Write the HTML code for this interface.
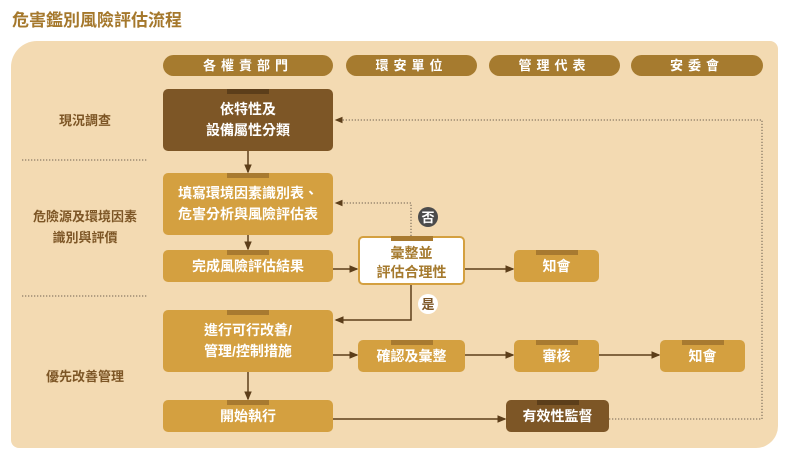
<!DOCTYPE html>
<html><head><meta charset="utf-8"><style>
body{margin:0;width:789px;height:462px;background:#fff;position:relative;overflow:hidden;font-family:"Liberation Sans","Noto Sans CJK TC",sans-serif;}
.t{position:absolute;left:12px;top:6px;font-size:17px;color:#a5782c;font-weight:bold;}
.panel{position:absolute;left:11px;top:41px;width:767px;height:407px;background:#f3dab2;border-radius:26px 8px 22px 8px;}
.pill{position:absolute;top:55px;height:21px;background:#a67b2f;border-radius:11px;color:#fff;font-size:13px;font-weight:bold;letter-spacing:5px;text-align:center;line-height:21px;}
.b{position:absolute;background:#d4a040;border-radius:5px;color:#fff;font-size:14px;font-weight:bold;display:flex;align-items:center;justify-content:center;text-align:center;line-height:21px;}
.b:before{content:"";position:absolute;top:0;left:50%;width:42px;margin-left:-21px;height:5px;background:#a87a30;}
.d{background:#7d5626}.d:before{background:#5c3e1a}
.w{background:#fff;border:2px solid #d4a040;color:#a57a2e;box-sizing:border-box;padding-top:4px;line-height:19px}
.w:before{top:-2px}
.l{position:absolute;font-size:13px;font-weight:bold;color:#7d5626;text-align:center;line-height:21px;}
svg{position:absolute;left:0;top:0}
</style></head><body>
<div class="t">危害鑑別風險評估流程</div>
<div class="panel"></div>
<div class="pill" style="left:163px;width:170px">各權責部門</div>
<div class="pill" style="left:346px;width:131px">環安單位</div>
<div class="pill" style="left:489px;width:131px">管理代表</div>
<div class="pill" style="left:631px;width:132px">安委會</div>
<div class="l" style="left:30px;top:110px;width:110px">現況調查</div>
<div class="l" style="left:20px;top:206px;width:130px">危險源及環境因素<br>識別與評價</div>
<div class="l" style="left:30px;top:366px;width:110px">優先改善管理</div>
<svg width="789" height="462">
<defs><marker id="a" markerWidth="6" markerHeight="6" refX="5" refY="3" orient="auto"><path d="M0,0.5 L6,3 L0,5.5z" fill="#5c3e1a"/></marker></defs>
<g stroke="#8a7a66" stroke-width="1.3" stroke-dasharray="1.3 1.7" fill="none">
<line x1="22" y1="160" x2="148" y2="160"/><line x1="22" y1="296" x2="148" y2="296"/>
<polyline points="609,419 762,419 762,120 336,120" marker-end="url(#a)"/>
<polyline points="411,236 411,203 336,203" marker-end="url(#a)"/>
</g>
<g stroke="#5c3e1a" stroke-width="1.5" fill="none" marker-end="url(#a)">
<line x1="248" y1="151" x2="248" y2="172"/>
<line x1="248" y1="235" x2="248" y2="249"/>
<line x1="333" y1="269" x2="357" y2="269"/>
<line x1="465" y1="269" x2="513" y2="269"/>
<polyline points="411,285 411,320 336,320"/>
<line x1="333" y1="355" x2="357" y2="355"/>
<line x1="465" y1="355" x2="513" y2="355"/>
<line x1="599" y1="355" x2="659" y2="355"/>
<line x1="248" y1="372" x2="248" y2="399"/>
<line x1="333" y1="419" x2="505" y2="419"/>
</g>
<circle cx="428" cy="217" r="10" fill="#4b4b4b"/>
<text x="428" y="222" font-size="13" font-weight="bold" fill="#fff" text-anchor="middle" font-family="Noto Sans CJK TC">否</text>
<circle cx="428" cy="304" r="10" fill="#fff"/>
<text x="428" y="309" font-size="13" font-weight="bold" fill="#7d5626" text-anchor="middle" font-family="Noto Sans CJK TC">是</text>
</svg>
<div class="b d" style="left:163px;top:89px;width:170px;height:62px">依特性及<br>設備屬性分類</div>
<div class="b" style="left:163px;top:173px;width:170px;height:62px">填寫環境因素識別表、<br>危害分析與風險評估表</div>
<div class="b" style="left:163px;top:250px;width:170px;height:32px">完成風險評估結果</div>
<div class="b w" style="left:358px;top:236px;width:107px;height:49px">彙整並<br>評估合理性</div>
<div class="b" style="left:514px;top:250px;width:85px;height:32px">知會</div>
<div class="b" style="left:163px;top:310px;width:170px;height:62px">進行可行改善/<br>管理/控制措施</div>
<div class="b" style="left:358px;top:340px;width:107px;height:32px">確認及彙整</div>
<div class="b" style="left:514px;top:340px;width:85px;height:32px">審核</div>
<div class="b" style="left:660px;top:340px;width:85px;height:32px">知會</div>
<div class="b" style="left:163px;top:400px;width:170px;height:32px">開始執行</div>
<div class="b d" style="left:506px;top:400px;width:103px;height:32px">有效性監督</div>
</body></html>
